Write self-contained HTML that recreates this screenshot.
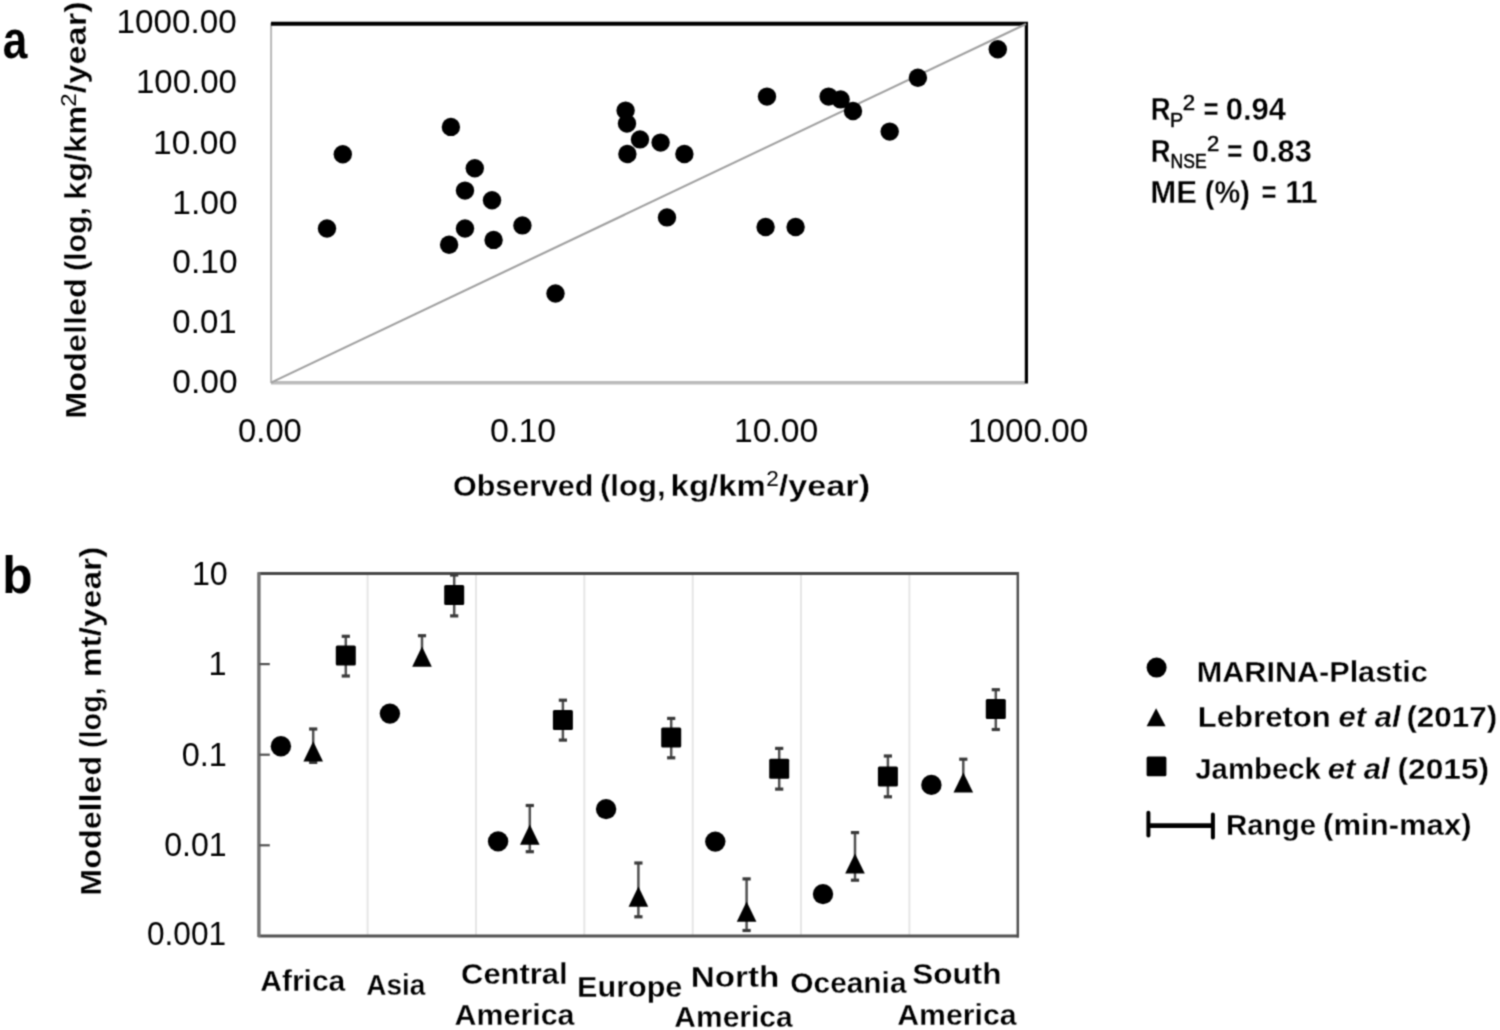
<!DOCTYPE html>
<html><head><meta charset="utf-8"><style>
html,body{margin:0;padding:0;background:#fff;width:1500px;height:1030px;overflow:hidden}
svg{display:block}
#wrap{width:1500px;height:1030px;filter:grayscale(100%)}
text{font-family:"Liberation Sans", sans-serif;fill:#000}
</style></head><body>
<div id="wrap"><svg width="1500" height="1030" viewBox="0 0 1500 1030">
<defs><filter id="bl" x="0" y="0" width="1500" height="1030" filterUnits="userSpaceOnUse" color-interpolation-filters="sRGB"><feConvolveMatrix order="3" kernelMatrix="0.04387 0.12171 0.04387 0.12171 0.33767 0.12171 0.04387 0.12171 0.04387" edgeMode="duplicate" preserveAlpha="false"/></filter></defs>
<rect width="1500" height="1030" fill="#fff"/>
<g filter="url(#bl)">
<line x1="271.1" y1="23" x2="271.1" y2="383" stroke="#b8b8b8" stroke-width="2"/>
<line x1="271" y1="382.8" x2="1025" y2="382.8" stroke="#bbbbbb" stroke-width="3.6"/>
<line x1="271" y1="23.7" x2="1028" y2="23.7" stroke="#000" stroke-width="3.9"/>
<line x1="1026.4" y1="22.5" x2="1026.4" y2="383.5" stroke="#000" stroke-width="3.2"/>
<line x1="271" y1="382.6" x2="1026" y2="24" stroke="#a0a0a0" stroke-width="2.1"/>
<circle cx="342.8" cy="154.2" r="9.2" fill="#000"/>
<circle cx="327.0" cy="228.5" r="9.2" fill="#000"/>
<circle cx="450.9" cy="126.9" r="9.2" fill="#000"/>
<circle cx="474.8" cy="168.2" r="9.2" fill="#000"/>
<circle cx="465.0" cy="190.6" r="9.2" fill="#000"/>
<circle cx="492.0" cy="200.2" r="9.2" fill="#000"/>
<circle cx="465.0" cy="228.5" r="9.2" fill="#000"/>
<circle cx="449.1" cy="244.8" r="9.2" fill="#000"/>
<circle cx="493.6" cy="239.9" r="9.2" fill="#000"/>
<circle cx="522.4" cy="225.4" r="9.2" fill="#000"/>
<circle cx="555.5" cy="293.5" r="9.2" fill="#000"/>
<circle cx="625.6" cy="110.6" r="9.2" fill="#000"/>
<circle cx="627.0" cy="123.6" r="9.2" fill="#000"/>
<circle cx="640.0" cy="139.4" r="9.2" fill="#000"/>
<circle cx="627.4" cy="154.0" r="9.2" fill="#000"/>
<circle cx="660.6" cy="142.6" r="9.2" fill="#000"/>
<circle cx="684.4" cy="154.0" r="9.2" fill="#000"/>
<circle cx="667.0" cy="217.4" r="9.2" fill="#000"/>
<circle cx="767.0" cy="96.6" r="9.2" fill="#000"/>
<circle cx="765.6" cy="227.0" r="9.2" fill="#000"/>
<circle cx="795.6" cy="227.0" r="9.2" fill="#000"/>
<circle cx="828.6" cy="96.6" r="9.2" fill="#000"/>
<circle cx="840.6" cy="99.4" r="9.2" fill="#000"/>
<circle cx="853.0" cy="111.0" r="9.2" fill="#000"/>
<circle cx="889.7" cy="131.6" r="9.2" fill="#000"/>
<circle cx="917.9" cy="77.8" r="9.2" fill="#000"/>
<circle cx="997.8" cy="49.2" r="9.2" fill="#000"/>
<line x1="367.6" y1="573.5" x2="367.6" y2="935.9" stroke="#e6e6e6" stroke-width="2"/>
<line x1="476.0" y1="573.5" x2="476.0" y2="935.9" stroke="#e6e6e6" stroke-width="2"/>
<line x1="584.3" y1="573.5" x2="584.3" y2="935.9" stroke="#e6e6e6" stroke-width="2"/>
<line x1="692.7" y1="573.5" x2="692.7" y2="935.9" stroke="#e6e6e6" stroke-width="2"/>
<line x1="801.0" y1="573.5" x2="801.0" y2="935.9" stroke="#e6e6e6" stroke-width="2"/>
<line x1="909.4" y1="573.5" x2="909.4" y2="935.9" stroke="#e6e6e6" stroke-width="2"/>
<line x1="258.3" y1="573.5" x2="1018.9000000000001" y2="573.5" stroke="#484848" stroke-width="2.8"/>
<line x1="258.3" y1="935.9" x2="1018.9000000000001" y2="935.9" stroke="#525252" stroke-width="3.0"/>
<line x1="1017.8000000000001" y1="572.1" x2="1017.8000000000001" y2="937.4" stroke="#505050" stroke-width="2.5"/>
<line x1="258.9" y1="572.3" x2="258.9" y2="937.1" stroke="#737373" stroke-width="3.4"/>
<line x1="259.3" y1="664.1" x2="269.8" y2="664.1" stroke="#505050" stroke-width="2.2"/>
<line x1="259.3" y1="754.7" x2="269.8" y2="754.7" stroke="#505050" stroke-width="2.2"/>
<line x1="259.3" y1="845.3" x2="269.8" y2="845.3" stroke="#505050" stroke-width="2.2"/>
<circle cx="280.90000000000003" cy="746.1999999999999" r="10.2" fill="#000"/>
<line x1="313.2" y1="729.0" x2="313.2" y2="762.4" stroke="#505050" stroke-width="2.5"/>
<line x1="309.09999999999997" y1="729.0" x2="317.3" y2="729.0" stroke="#3a3a3a" stroke-width="3.2"/>
<line x1="309.09999999999997" y1="762.4" x2="317.3" y2="762.4" stroke="#3a3a3a" stroke-width="3.2"/>
<polygon points="313.2,741.3 323.0,761.5 303.4,761.5" fill="#000"/>
<line x1="345.8" y1="636.3" x2="345.8" y2="676.0" stroke="#505050" stroke-width="2.5"/>
<line x1="341.7" y1="636.3" x2="349.90000000000003" y2="636.3" stroke="#3a3a3a" stroke-width="3.2"/>
<line x1="341.7" y1="676.0" x2="349.90000000000003" y2="676.0" stroke="#3a3a3a" stroke-width="3.2"/>
<rect x="335.8" y="645.5" width="20.0" height="20.0" rx="1.5" fill="#000"/>
<circle cx="389.90000000000003" cy="713.5999999999999" r="10.2" fill="#000"/>
<line x1="422.0" y1="635.7" x2="422.0" y2="657.25" stroke="#505050" stroke-width="2.5"/>
<line x1="417.9" y1="635.7" x2="426.1" y2="635.7" stroke="#3a3a3a" stroke-width="3.2"/>
<line x1="417.9" y1="657.25" x2="426.1" y2="657.25" stroke="#3a3a3a" stroke-width="3.2"/>
<polygon points="422.0,646.5 431.8,666.7 412.2,666.7" fill="#000"/>
<line x1="454.2" y1="575.0" x2="454.2" y2="615.9" stroke="#505050" stroke-width="2.5"/>
<line x1="450.09999999999997" y1="575.0" x2="458.3" y2="575.0" stroke="#3a3a3a" stroke-width="3.2"/>
<line x1="450.09999999999997" y1="615.9" x2="458.3" y2="615.9" stroke="#3a3a3a" stroke-width="3.2"/>
<rect x="444.2" y="584.9" width="20.0" height="20.0" rx="1.5" fill="#000"/>
<circle cx="498.1" cy="841.4" r="10.2" fill="#000"/>
<line x1="529.8" y1="805.5" x2="529.8" y2="851.7" stroke="#505050" stroke-width="2.5"/>
<line x1="525.6999999999999" y1="805.5" x2="533.9" y2="805.5" stroke="#3a3a3a" stroke-width="3.2"/>
<line x1="525.6999999999999" y1="851.7" x2="533.9" y2="851.7" stroke="#3a3a3a" stroke-width="3.2"/>
<polygon points="529.8,824.6 539.6,844.8 520.0,844.8" fill="#000"/>
<line x1="562.9" y1="700.2" x2="562.9" y2="740.1" stroke="#505050" stroke-width="2.5"/>
<line x1="558.8" y1="700.2" x2="567.0" y2="700.2" stroke="#3a3a3a" stroke-width="3.2"/>
<line x1="558.8" y1="740.1" x2="567.0" y2="740.1" stroke="#3a3a3a" stroke-width="3.2"/>
<rect x="552.9" y="709.9" width="20.0" height="20.0" rx="1.5" fill="#000"/>
<circle cx="606.0999999999999" cy="809.0999999999999" r="10.2" fill="#000"/>
<line x1="638.4" y1="863.0" x2="638.4" y2="916.8" stroke="#505050" stroke-width="2.5"/>
<line x1="634.3" y1="863.0" x2="642.5" y2="863.0" stroke="#3a3a3a" stroke-width="3.2"/>
<line x1="634.3" y1="916.8" x2="642.5" y2="916.8" stroke="#3a3a3a" stroke-width="3.2"/>
<polygon points="638.4,886.5 648.2,906.7 628.6,906.7" fill="#000"/>
<line x1="671.2" y1="718.4" x2="671.2" y2="757.8" stroke="#505050" stroke-width="2.5"/>
<line x1="667.1" y1="718.4" x2="675.3000000000001" y2="718.4" stroke="#3a3a3a" stroke-width="3.2"/>
<line x1="667.1" y1="757.8" x2="675.3000000000001" y2="757.8" stroke="#3a3a3a" stroke-width="3.2"/>
<rect x="661.2" y="727.6" width="20.0" height="20.0" rx="1.5" fill="#000"/>
<circle cx="715.3" cy="841.5999999999999" r="10.2" fill="#000"/>
<line x1="746.6" y1="878.9" x2="746.6" y2="930.5" stroke="#505050" stroke-width="2.5"/>
<line x1="742.5" y1="878.9" x2="750.7" y2="878.9" stroke="#3a3a3a" stroke-width="3.2"/>
<line x1="742.5" y1="930.5" x2="750.7" y2="930.5" stroke="#3a3a3a" stroke-width="3.2"/>
<polygon points="746.6,901.5 756.4,921.7 736.8,921.7" fill="#000"/>
<line x1="779.2" y1="748.4" x2="779.2" y2="789.1" stroke="#505050" stroke-width="2.5"/>
<line x1="775.1" y1="748.4" x2="783.3000000000001" y2="748.4" stroke="#3a3a3a" stroke-width="3.2"/>
<line x1="775.1" y1="789.1" x2="783.3000000000001" y2="789.1" stroke="#3a3a3a" stroke-width="3.2"/>
<rect x="769.2" y="758.8" width="20.0" height="20.0" rx="1.5" fill="#000"/>
<circle cx="823.0" cy="894.0999999999999" r="10.2" fill="#000"/>
<line x1="855.0" y1="832.6" x2="855.0" y2="880.2" stroke="#505050" stroke-width="2.5"/>
<line x1="850.9" y1="832.6" x2="859.1" y2="832.6" stroke="#3a3a3a" stroke-width="3.2"/>
<line x1="850.9" y1="880.2" x2="859.1" y2="880.2" stroke="#3a3a3a" stroke-width="3.2"/>
<polygon points="855.0,853.4 864.8,873.6 845.2,873.6" fill="#000"/>
<line x1="887.9" y1="756.0" x2="887.9" y2="796.8" stroke="#505050" stroke-width="2.5"/>
<line x1="883.8" y1="756.0" x2="892.0" y2="756.0" stroke="#3a3a3a" stroke-width="3.2"/>
<line x1="883.8" y1="796.8" x2="892.0" y2="796.8" stroke="#3a3a3a" stroke-width="3.2"/>
<rect x="877.9" y="766.4" width="20.0" height="20.0" rx="1.5" fill="#000"/>
<circle cx="931.4" cy="784.9" r="10.2" fill="#000"/>
<line x1="963.3" y1="759.2" x2="963.3" y2="782.3" stroke="#505050" stroke-width="2.5"/>
<line x1="959.1999999999999" y1="759.2" x2="967.4" y2="759.2" stroke="#3a3a3a" stroke-width="3.2"/>
<line x1="959.1999999999999" y1="782.3" x2="967.4" y2="782.3" stroke="#3a3a3a" stroke-width="3.2"/>
<polygon points="963.3,772.4 973.1,792.6 953.5,792.6" fill="#000"/>
<line x1="995.8" y1="689.7" x2="995.8" y2="729.5" stroke="#505050" stroke-width="2.5"/>
<line x1="991.6999999999999" y1="689.7" x2="999.9" y2="689.7" stroke="#3a3a3a" stroke-width="3.2"/>
<line x1="991.6999999999999" y1="729.5" x2="999.9" y2="729.5" stroke="#3a3a3a" stroke-width="3.2"/>
<rect x="985.8" y="698.9" width="20.0" height="20.0" rx="1.5" fill="#000"/>
<circle cx="1156.6" cy="667.6" r="10" fill="#000"/>
<polygon points="1156.1,708.2 1165.6,726.2 1146.6,726.2" fill="#000"/>
<rect x="1146.6" y="756.4" width="19.8" height="19.8" rx="1.5" fill="#000"/>
<line x1="1148.4" y1="812.8" x2="1148.4" y2="835.6" stroke="#000" stroke-width="4" stroke-linecap="round"/>
<line x1="1212.9" y1="814.6" x2="1212.9" y2="837.4" stroke="#000" stroke-width="4" stroke-linecap="round"/>
<line x1="1148.4" y1="825.6" x2="1212.9" y2="825.6" stroke="#000" stroke-width="4.6"/>
<text id="ya0" x="116.60" y="33.1" font-size="33.2" textLength="120.24" lengthAdjust="spacingAndGlyphs">1000.00</text>
<text id="ya1" x="135.94" y="92.9" font-size="33.2" textLength="100.91" lengthAdjust="spacingAndGlyphs">100.00</text>
<text id="ya2" x="153.08" y="153.5" font-size="33.2" textLength="83.97" lengthAdjust="spacingAndGlyphs">10.00</text>
<text id="ya3" x="172.25" y="213.9" font-size="33.2" textLength="65.36" lengthAdjust="spacingAndGlyphs">1.00</text>
<text id="ya4" x="172.39" y="273.3" font-size="33.2" textLength="65.21" lengthAdjust="spacingAndGlyphs">0.10</text>
<text id="ya5" x="172.37" y="333.1" font-size="33.2" textLength="64.25" lengthAdjust="spacingAndGlyphs">0.01</text>
<text id="ya6" x="172.39" y="393.4" font-size="33.2" textLength="65.21" lengthAdjust="spacingAndGlyphs">0.00</text>
<text id="xa0" x="238.06" y="441.6" font-size="33.2" textLength="63.79" lengthAdjust="spacingAndGlyphs">0.00</text>
<text id="xa1" x="490.11" y="441.6" font-size="33.2" textLength="66.13" lengthAdjust="spacingAndGlyphs">0.10</text>
<text id="xa2" x="733.91" y="441.5" font-size="33.2" textLength="84.34" lengthAdjust="spacingAndGlyphs">10.00</text>
<text id="xa3" x="968.03" y="441.5" font-size="33.2" textLength="120.31" lengthAdjust="spacingAndGlyphs">1000.00</text>
<text id="xta1" x="453.06" y="495.8" font-size="30" font-weight="bold" stroke="#fff" stroke-width="0.3" stroke-linejoin="round" textLength="140.29" lengthAdjust="spacingAndGlyphs">Observed</text>
<text id="xta2" x="599.99" y="495.8" font-size="30" font-weight="bold" stroke="#fff" stroke-width="0.3" stroke-linejoin="round" textLength="65.65" lengthAdjust="spacingAndGlyphs">(log,</text>
<text id="xta3" x="670.60" y="495.8" font-size="30" font-weight="bold" stroke="#fff" stroke-width="0.3" stroke-linejoin="round" textLength="95.21" lengthAdjust="spacingAndGlyphs">kg/km</text>
<text id="xta4" x="766.17" y="485.8" font-size="21.5" textLength="12.58" lengthAdjust="spacingAndGlyphs">2</text>
<text id="xta5" x="778.77" y="495.8" font-size="30" font-weight="bold" stroke="#fff" stroke-width="0.3" stroke-linejoin="round" textLength="91.28" lengthAdjust="spacingAndGlyphs">/year)</text>
<text id="yta1" transform="translate(86.4,418.81) rotate(-90)" x="0" y="0" font-size="30" font-weight="bold" stroke="#fff" stroke-width="0.3" stroke-linejoin="round" textLength="140.62" lengthAdjust="spacingAndGlyphs">Modelled</text>
<text id="yta2" transform="translate(86.4,271.11) rotate(-90)" x="0" y="0" font-size="30" font-weight="bold" stroke="#fff" stroke-width="0.3" stroke-linejoin="round" textLength="64.12" lengthAdjust="spacingAndGlyphs">(log,</text>
<text id="yta3" transform="translate(86.4,199.91) rotate(-90)" x="0" y="0" font-size="30" font-weight="bold" stroke="#fff" stroke-width="0.3" stroke-linejoin="round" textLength="94.00" lengthAdjust="spacingAndGlyphs">kg/km</text>
<text id="yta4" transform="translate(75.5,106.63) rotate(-90)" x="0" y="0" font-size="21.5" textLength="13.42" lengthAdjust="spacingAndGlyphs">2</text>
<text id="yta5" transform="translate(86.4,93.32) rotate(-90)" x="0" y="0" font-size="30" font-weight="bold" stroke="#fff" stroke-width="0.3" stroke-linejoin="round" textLength="92.00" lengthAdjust="spacingAndGlyphs">/year)</text>
<text id="la" x="2.75" y="57.8" font-size="51" font-weight="bold" textLength="24.60" lengthAdjust="spacingAndGlyphs">a</text>
<text id="lb" x="2.19" y="593.0" font-size="52" font-weight="bold" textLength="30.30" lengthAdjust="spacingAndGlyphs">b</text>
<text id="s1a" x="1150.78" y="120.3" font-size="31" font-weight="bold" stroke="#fff" stroke-width="0.3" stroke-linejoin="round" textLength="19.85" lengthAdjust="spacingAndGlyphs">R</text>
<text id="s1b" x="1170.02" y="126.9" font-size="21" stroke="#000" stroke-width="0.5" stroke-linejoin="round" textLength="13.20" lengthAdjust="spacingAndGlyphs">P</text>
<text id="s1c" x="1182.78" y="110.3" font-size="21.8" stroke="#000" stroke-width="0.5" stroke-linejoin="round" textLength="12.37" lengthAdjust="spacingAndGlyphs">2</text>
<text id="s1d" x="1203.61" y="120.3" font-size="31" font-weight="bold" stroke="#fff" stroke-width="0.3" stroke-linejoin="round" textLength="15.17" lengthAdjust="spacingAndGlyphs">=</text>
<text id="s1e" x="1225.76" y="120.3" font-size="31" font-weight="bold" stroke="#fff" stroke-width="0.3" stroke-linejoin="round" textLength="60.27" lengthAdjust="spacingAndGlyphs">0.94</text>
<text id="s2a" x="1150.78" y="161.5" font-size="31" font-weight="bold" stroke="#fff" stroke-width="0.3" stroke-linejoin="round" textLength="19.85" lengthAdjust="spacingAndGlyphs">R</text>
<text id="s2b" x="1170.49" y="168.0" font-size="21" stroke="#000" stroke-width="0.5" stroke-linejoin="round" textLength="36.18" lengthAdjust="spacingAndGlyphs">NSE</text>
<text id="s2c" x="1206.93" y="151.0" font-size="21.8" stroke="#000" stroke-width="0.5" stroke-linejoin="round" textLength="12.29" lengthAdjust="spacingAndGlyphs">2</text>
<text id="s2d" x="1226.96" y="161.5" font-size="31" font-weight="bold" stroke="#fff" stroke-width="0.3" stroke-linejoin="round" textLength="15.51" lengthAdjust="spacingAndGlyphs">=</text>
<text id="s2e" x="1251.96" y="161.5" font-size="31" font-weight="bold" stroke="#fff" stroke-width="0.3" stroke-linejoin="round" textLength="59.83" lengthAdjust="spacingAndGlyphs">0.83</text>
<text id="s3a" x="1150.34" y="202.8" font-size="31" font-weight="bold" stroke="#fff" stroke-width="0.3" stroke-linejoin="round" textLength="46.65" lengthAdjust="spacingAndGlyphs">ME</text>
<text id="s3b" x="1204.83" y="202.8" font-size="31" font-weight="bold" stroke="#fff" stroke-width="0.3" stroke-linejoin="round" textLength="44.93" lengthAdjust="spacingAndGlyphs">(%)</text>
<text id="s3c" x="1261.38" y="202.8" font-size="31" font-weight="bold" stroke="#fff" stroke-width="0.3" stroke-linejoin="round" textLength="15.09" lengthAdjust="spacingAndGlyphs">=</text>
<text id="s3d" x="1285.16" y="202.8" font-size="31" font-weight="bold" stroke="#fff" stroke-width="0.3" stroke-linejoin="round" textLength="32.56" lengthAdjust="spacingAndGlyphs">11</text>
<text id="yb0" x="191.94" y="584.5" font-size="33.2" textLength="35.86" lengthAdjust="spacingAndGlyphs">10</text>
<text id="yb1" x="208.41" y="675.0" font-size="33.2" textLength="18.03" lengthAdjust="spacingAndGlyphs">1</text>
<text id="yb2" x="181.70" y="766.0" font-size="33.2" textLength="45.12" lengthAdjust="spacingAndGlyphs">0.1</text>
<text id="yb3" x="164.22" y="856.3" font-size="33.2" textLength="62.45" lengthAdjust="spacingAndGlyphs">0.01</text>
<text id="yb4" x="146.97" y="945.4" font-size="33.2" textLength="79.05" lengthAdjust="spacingAndGlyphs">0.001</text>
<text id="ytb1" transform="translate(101.3,895.67) rotate(-90)" x="0" y="0" font-size="30" font-weight="bold" stroke="#fff" stroke-width="0.3" stroke-linejoin="round" textLength="139.84" lengthAdjust="spacingAndGlyphs">Modelled</text>
<text id="ytb2" transform="translate(101.3,748.06) rotate(-90)" x="0" y="0" font-size="30" font-weight="bold" stroke="#fff" stroke-width="0.3" stroke-linejoin="round" textLength="60.90" lengthAdjust="spacingAndGlyphs">(log,</text>
<text id="ytb3" transform="translate(101.3,677.36) rotate(-90)" x="0" y="0" font-size="30" font-weight="bold" stroke="#fff" stroke-width="0.3" stroke-linejoin="round" textLength="130.72" lengthAdjust="spacingAndGlyphs">mt/year)</text>
<text id="c0" x="260.26" y="991.0" font-size="30" font-weight="bold" stroke="#fff" stroke-width="0.3" stroke-linejoin="round" textLength="85.05" lengthAdjust="spacingAndGlyphs">Africa</text>
<text id="c1" x="366.25" y="995.0" font-size="30" font-weight="bold" stroke="#fff" stroke-width="0.3" stroke-linejoin="round" textLength="59.07" lengthAdjust="spacingAndGlyphs">Asia</text>
<text id="c2" x="461.13" y="984.4" font-size="30" font-weight="bold" stroke="#fff" stroke-width="0.3" stroke-linejoin="round" textLength="106.45" lengthAdjust="spacingAndGlyphs">Central</text>
<text id="c2b" x="454.56" y="1025.2" font-size="30" font-weight="bold" stroke="#fff" stroke-width="0.3" stroke-linejoin="round" textLength="119.95" lengthAdjust="spacingAndGlyphs">America</text>
<text id="c3" x="577.12" y="997.2" font-size="30" font-weight="bold" stroke="#fff" stroke-width="0.3" stroke-linejoin="round" textLength="105.23" lengthAdjust="spacingAndGlyphs">Europe</text>
<text id="c4" x="690.68" y="986.5" font-size="30" font-weight="bold" stroke="#fff" stroke-width="0.3" stroke-linejoin="round" textLength="88.56" lengthAdjust="spacingAndGlyphs">North</text>
<text id="c4b" x="674.36" y="1027.3" font-size="30" font-weight="bold" stroke="#fff" stroke-width="0.3" stroke-linejoin="round" textLength="118.25" lengthAdjust="spacingAndGlyphs">America</text>
<text id="c5" x="790.35" y="992.9" font-size="30" font-weight="bold" stroke="#fff" stroke-width="0.3" stroke-linejoin="round" textLength="116.16" lengthAdjust="spacingAndGlyphs">Oceania</text>
<text id="c6" x="912.33" y="984.1" font-size="30" font-weight="bold" stroke="#fff" stroke-width="0.3" stroke-linejoin="round" textLength="89.25" lengthAdjust="spacingAndGlyphs">South</text>
<text id="c6b" x="897.25" y="1025.2" font-size="30" font-weight="bold" stroke="#fff" stroke-width="0.3" stroke-linejoin="round" textLength="119.27" lengthAdjust="spacingAndGlyphs">America</text>
<text id="lg1" x="1196.77" y="682.2" font-size="30" font-weight="bold" stroke="#fff" stroke-width="0.3" stroke-linejoin="round" textLength="231.05" lengthAdjust="spacingAndGlyphs">MARINA-Plastic</text>
<text id="lg2a" x="1197.84" y="727.4" font-size="30" font-weight="bold" stroke="#fff" stroke-width="0.3" stroke-linejoin="round" textLength="133.04" lengthAdjust="spacingAndGlyphs">Lebreton</text>
<text id="lg2b" x="1338.54" y="727.4" font-size="30" font-weight="bold" stroke="#fff" stroke-width="0.3" stroke-linejoin="round" font-style="italic" textLength="62.12" lengthAdjust="spacingAndGlyphs">et al</text>
<text id="lg2c" x="1406.41" y="727.4" font-size="30" font-weight="bold" stroke="#fff" stroke-width="0.3" stroke-linejoin="round" textLength="90.77" lengthAdjust="spacingAndGlyphs">(2017)</text>
<text id="lg3a" x="1195.28" y="779.2" font-size="30" font-weight="bold" stroke="#fff" stroke-width="0.3" stroke-linejoin="round" textLength="125.62" lengthAdjust="spacingAndGlyphs">Jambeck</text>
<text id="lg3b" x="1327.67" y="779.2" font-size="30" font-weight="bold" stroke="#fff" stroke-width="0.3" stroke-linejoin="round" font-style="italic" textLength="62.06" lengthAdjust="spacingAndGlyphs">et al</text>
<text id="lg3c" x="1397.52" y="779.2" font-size="30" font-weight="bold" stroke="#fff" stroke-width="0.3" stroke-linejoin="round" textLength="91.63" lengthAdjust="spacingAndGlyphs">(2015)</text>
<text id="lg4a" x="1226.11" y="835.0" font-size="30" font-weight="bold" stroke="#fff" stroke-width="0.3" stroke-linejoin="round" textLength="89.93" lengthAdjust="spacingAndGlyphs">Range</text>
<text id="lg4b" x="1323.07" y="835.0" font-size="30" font-weight="bold" stroke="#fff" stroke-width="0.3" stroke-linejoin="round" textLength="148.48" lengthAdjust="spacingAndGlyphs">(min-max)</text>
</g>
</svg></div>
</body></html>
